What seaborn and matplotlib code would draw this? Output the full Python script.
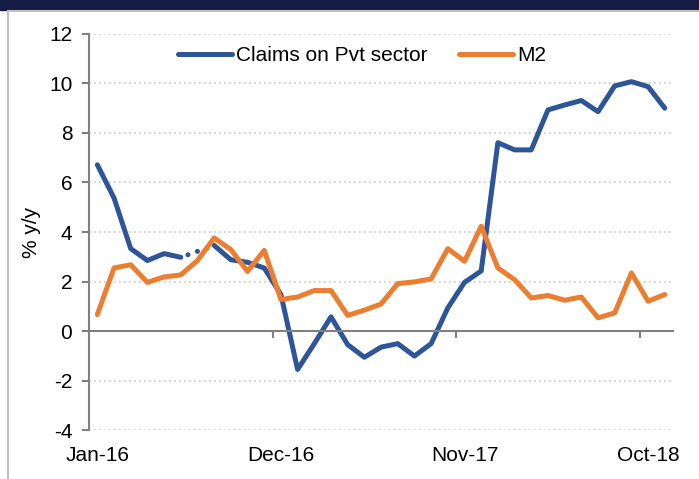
import numpy as np
import pandas as pd
import matplotlib
matplotlib.use("Agg")
import matplotlib.pyplot as plt
import seaborn as sns
from matplotlib.lines import Line2D
from matplotlib.patches import Rectangle

# monthly data, Jan-16 .. Nov-18
months = pd.date_range("2016-01-01", "2018-11-01", freq="MS").strftime("%b-%y").tolist()
claims = [6.71, 5.37, 3.33, 2.85, 3.13, 2.98, np.nan, 3.46, 2.88, 2.78, 2.55, 1.48,
          -1.54, -0.50, 0.58, -0.54, -1.05, -0.64, -0.50, -1.00, -0.50, 0.94, 1.97, 2.43,
          7.60, 7.31, 7.31, 8.92, 9.12, 9.30, 8.85, 9.89, 10.06, 9.86, 8.99]
m2 = [0.67, 2.55, 2.68, 1.97, 2.19, 2.27, 2.85, 3.76, 3.29, 2.41, 3.26, 1.28,
      1.38, 1.64, 1.64, 0.64, 0.85, 1.10, 1.92, 1.99, 2.11, 3.33, 2.82, 4.23,
      2.55, 2.08, 1.34, 1.44, 1.25, 1.38, 0.54, 0.74, 2.35, 1.21, 1.48]
xlabels = ["Jan-16", "Dec-16", "Nov-17", "Oct-18"]
yticks = list(range(-4, 13, 2))

blue = "#2E5597"
orange = "#ED7D31"

idx = np.arange(len(months))
claims_seg = np.where(idx < 6, 0, 1)
df = pd.concat([
    pd.DataFrame({"idx": idx, "val": claims, "series": "Claims on Pvt sector", "seg": claims_seg}),
    pd.DataFrame({"idx": idx, "val": m2, "series": "M2", "seg": 0}),
]).dropna()

plt.rcParams["font.family"] = ["Liberation Sans", "DejaVu Sans"]
fs = 15
fig = plt.figure(figsize=(6.99, 4.79), dpi=100)
ax = fig.add_axes([0.1273, 0.1013, 0.8357, 0.8287])

# navy band and grey frame
fig.patches.append(Rectangle((0, 1 - 10 / 479), 1, 10 / 479, transform=fig.transFigure,
                             color="#141C45", zorder=0))
fig.add_artist(Line2D([7.5 / 699, 7.5 / 699], [0, 1 - 11 / 479], transform=fig.transFigure,
                      color="#BFBFBF", lw=1.5))
fig.add_artist(Line2D([7.5 / 699, 1], [1 - 11 / 479, 1 - 11 / 479], transform=fig.transFigure,
                      color="#BFBFBF", lw=1.5))

sns.lineplot(data=df, x="idx", y="val", hue="series", units="seg", estimator=None,
             palette={"Claims on Pvt sector": blue, "M2": orange},
             hue_order=["Claims on Pvt sector", "M2"], lw=3.6, ax=ax,
             solid_capstyle="round", solid_joinstyle="round", sort=False)

# dotted bridge over the missing month
ax.plot([idx[5], idx[7]], [claims[5], claims[7]], color=blue, lw=3.6,
        linestyle=(2.5, (0.01, 2.0)), dash_capstyle="round", zorder=1)

ax.set_xlim(-0.5, len(months) - 0.5)
ax.set_ylim(-4, 12)
ax.set_yticks(yticks)
ax.set_yticklabels([str(v) for v in yticks], fontsize=fs)
ax.yaxis.grid(True, linestyle=(0, (1, 2)), color="#C8C8C8", lw=1.2)
ax.set_axisbelow(True)

for s in ["top", "right"]:
    ax.spines[s].set_visible(False)
ax.spines["left"].set_color("#808080")
ax.spines["left"].set_linewidth(1.5)
ax.spines["bottom"].set_position(("data", 0))
ax.spines["bottom"].set_color("#808080")
ax.spines["bottom"].set_linewidth(1.5)
ax.tick_params(axis="y", length=5, width=1.5, color="#808080", pad=7)
ax.set_xticks([10.5, 21.5, 32.5])
ax.set_xticklabels(["", "", ""])
ax.tick_params(axis="x", length=5, width=1.5, color="#808080")

for k, lab in enumerate(xlabels):
    ax.text(k * 11, -0.04, lab, transform=ax.get_xaxis_transform(),
            ha="center", va="top", fontsize=fs)

ax.set_xlabel("")
ax.set_ylabel("% y/y", fontsize=fs, labelpad=6)

ax.legend(loc="upper center", bbox_to_anchor=(0.467, 1.015), ncol=2, frameon=False,
          fontsize=fs, handlelength=2.6, handletextpad=0.2, columnspacing=1.5)

fig.savefig("out.png", dpi=100)
